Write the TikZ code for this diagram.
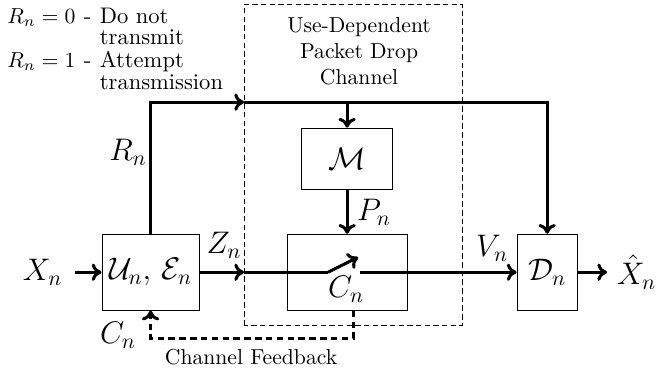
\documentclass[tikz,border=0pt]{standalone}
\usepackage{amsmath}
\usepackage{amssymb}
\usetikzlibrary{arrows.meta}
\usetikzlibrary{positioning}
\usetikzlibrary{calc}

\begin{document}
\begin{tikzpicture}[>={To[length=4.5pt,width=8pt]},
    blk/.style={draw, line width=0.5pt, minimum height=1.23cm, inner sep=0pt},
    sig/.style={line width=1.4pt},
    fbline/.style={line width=1.4pt, dash pattern=on 3pt off 2pt},
    lbl/.style={inner sep=0pt, font=\Large}]
    \useasboundingbox (0,0) rectangle (10.66,6.04);
    % Kenh (dashed)
    \draw[line width=0.4pt, dash pattern=on 2.5pt off 1.5pt] (3.96,0.763) rectangle (7.498,5.973);
    \node[align=center] (chan) at (5.826,5.21) {Use-Dependent\\Packet Drop\\Channel};
    % Cac khoi
    \node[blk, minimum width=1.574cm] (enc) at (2.443,1.623) {\Large$\mathcal{U}_n,\,\mathcal{E}_n$};
    \node[blk, minimum width=1.948cm] (ch) at (5.632,1.623) {};
    \node[blk, minimum width=1.477cm, minimum height=0.99cm] (M) at (5.632,3.465) {\Large$\mathcal{M}$};
    \node[blk, minimum width=0.974cm] (dec) at (8.878,1.623) {\Large$\mathcal{D}_n$};
    % Toa do
    \coordinate (xa) at (1.22,1.623);
    \coordinate (xb) at (9.85,1.623);
    \coordinate (za) at (3.96,1.623);
    \coordinate (sw1) at (5.323,1.623);
    \coordinate (sw2) at (5.81,1.866);
    \coordinate (sw3) at (5.843,1.623);
    \coordinate (ta) at (2.443,4.382);
    \coordinate (tb) at (3.96,4.382);
    \coordinate (tm) at (5.632,4.382);
    \coordinate (tc) at (8.878,4.382);
    \coordinate (fbr) at (5.729,0.552);
    \coordinate (fbl) at (2.443,0.552);
    % Nhan
    \node[lbl, left=0.2cm of xa] (xin) {$X_n$};
    \node[lbl, right=0.15cm of xb] (xhat) {$\hat{X}_n$};
    \node[lbl] (zn) at (3.635,2.06) {$Z_n$};
    \node[lbl] (vn) at (7.985,2.01) {$V_n$};
    \node[lbl] (pn) at (6.07,2.597) {$P_n$};
    \node[lbl] (rn) at (2.077,3.57) {$R_n$};
    \node[lbl] (cn) at (5.616,1.347) {$C_n$};
    \node[lbl] (cfb) at (1.915,0.6) {$C_n$};
    \node (fbtxt) at (4.074,0.243) {Channel Feedback};
    \node[anchor=north west, inner sep=0pt, font=\fontsize{10.4pt}{11.5pt}\selectfont] (legend) at (0.114,5.92)
        {\renewcommand{\arraystretch}{0.87}%
         \begin{tabular}{@{}l@{\hspace{4pt}}l@{}}\makebox[1.36cm][l]{$R_n=0$\hfill-} & Do not\\ & transmit\\
          \makebox[1.36cm][l]{$R_n=1$\hfill-} & Attempt\\ & transmission\end{tabular}};
    % Duong tin hieu
    \draw[sig,->] (xa) -- (enc);
    \draw[sig,->] (enc) -- (za);
    \draw[sig] (za) -- (sw1);
    \draw[sig,->] (sw1) -- (sw2);
    \draw[sig,->] (sw3) -- (dec);
    \draw[sig,->] (dec) -- (xb);
    \draw[sig,->] (enc.north) -- (ta) -- (tb);
    \draw[sig,->] (tb) -- (tc) -- (dec.north);
    \draw[sig,->] (tm) -- (M.north);
    \draw[sig,->] (M) -- (ch);
    \draw[fbline,->] (ch.south -| fbr) -- (fbr) -- (fbl) -- (enc.south);
\end{tikzpicture}
\end{document}
